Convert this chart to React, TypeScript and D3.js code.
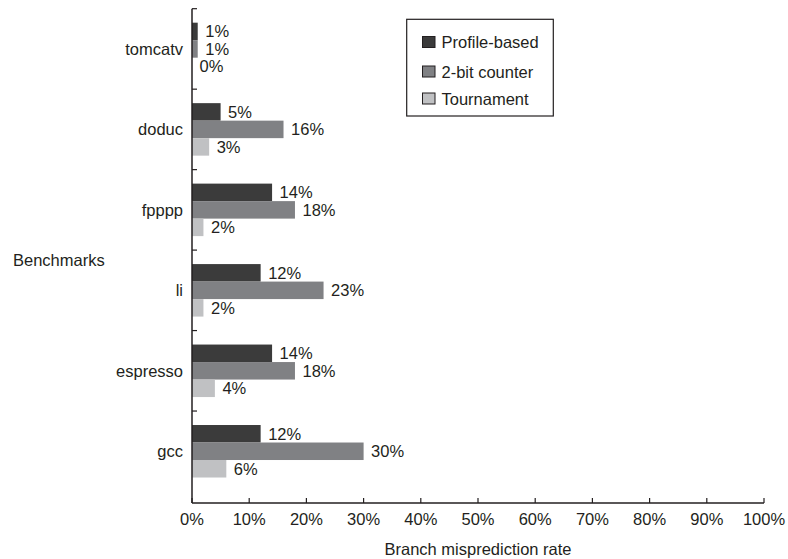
import React from "react";
import * as d3 from "d3";

const categories = ["tomcatv", "doduc", "fpppp", "li", "espresso", "gcc"];
const seriesNames = ["Profile-based", "2-bit counter", "Tournament"];
const profileBased = [1, 5, 14, 12, 14, 12];
const twoBitCounter = [1, 16, 18, 23, 18, 30];
const tournament = [0, 3, 2, 2, 4, 6];
const xTicks = [0, 10, 20, 30, 40, 50, 60, 70, 80, 90, 100];
const colors = ["#3b3b3b", "#808184", "#c0c1c3"];

const W = 788;
const H = 559;
const FONT = "'Liberation Sans', Arial, Helvetica, sans-serif";
const FS = 16.5;
const TXT = "#231f20";

export default function App() {
  const seriesValues = [profileBased, twoBitCounter, tournament];
  const x = d3.scaleLinear().domain([0, 100]).range([192, 764]);
  const y = d3.scaleBand<string>().domain(categories).range([8.7, 491.5]).padding(0);
  const step = y.step();
  const groupH = 52.5;
  const inner = d3
    .scaleBand<string>()
    .domain(seriesNames)
    .range([(step - groupH) / 2, (step + groupH) / 2])
    .padding(0);
  const axisY = 503;
  const axisX = x(0);

  return (
    <svg
      width={W}
      height={H}
      style={{ position: "absolute", left: 0, top: 0, background: "#fff" }}
      fontFamily={FONT}
      fontSize={FS}
    >
      {categories.map((c, i) => (
        <g key={c}>
          {seriesNames.map((s, j) => {
            const v = seriesValues[j][i];
            const yy = (y(c) as number) + (inner(s) as number);
            const bh = inner.bandwidth();
            return (
              <g key={s}>
                {v > 0 && (
                  <rect x={x(0)} y={yy} width={x(v) - x(0)} height={bh} fill={colors[j]} />
                )}
                <text x={x(v) + 7.5} y={yy + bh / 2 + 6} fill={TXT}>
                  {v}%
                </text>
              </g>
            );
          })}
          <text
            x={183}
            y={(y(c) as number) + step / 2 + 6}
            textAnchor="end"
            fill={TXT}
          >
            {c}
          </text>
        </g>
      ))}

      <line x1={axisX} x2={axisX} y1={8.7} y2={axisY} stroke={TXT} strokeWidth={1.5} />
      {categories.map((c) => (
        <line
          key={"t" + c}
          x1={axisX}
          x2={axisX + 5}
          y1={y(c) as number}
          y2={y(c) as number}
          stroke={TXT}
          strokeWidth={1.2}
        />
      ))}

      <line x1={axisX} x2={x(100)} y1={axisY} y2={axisY} stroke={TXT} strokeWidth={1.5} />
      {xTicks.map((t) => (
        <g key={"x" + t}>
          <line x1={x(t)} x2={x(t)} y1={axisY} y2={axisY - 5} stroke={TXT} strokeWidth={1.2} />
          <text x={x(t)} y={525} textAnchor="middle" fill={TXT}>
            {t}%
          </text>
        </g>
      ))}

      <text x={478} y={555} textAnchor="middle" fill={TXT}>
        Branch misprediction rate
      </text>
      <text x={13} y={266} fill={TXT}>
        Benchmarks
      </text>

      <rect x={406.7} y={19.3} width={146.6} height={96.7} fill="#fff" stroke={TXT} strokeWidth={1.2} />
      {seriesNames.map((s, j) => {
        const cy = [42, 71.5, 98.5][j];
        return (
          <g key={"l" + s}>
            <rect x={422.5} y={cy - 5.5} width={12.5} height={11} fill={colors[j]} stroke={TXT} strokeWidth={1} />
            <text x={441.5} y={cy + 6} fill={TXT}>
              {s}
            </text>
          </g>
        );
      })}
    </svg>
  );
}
